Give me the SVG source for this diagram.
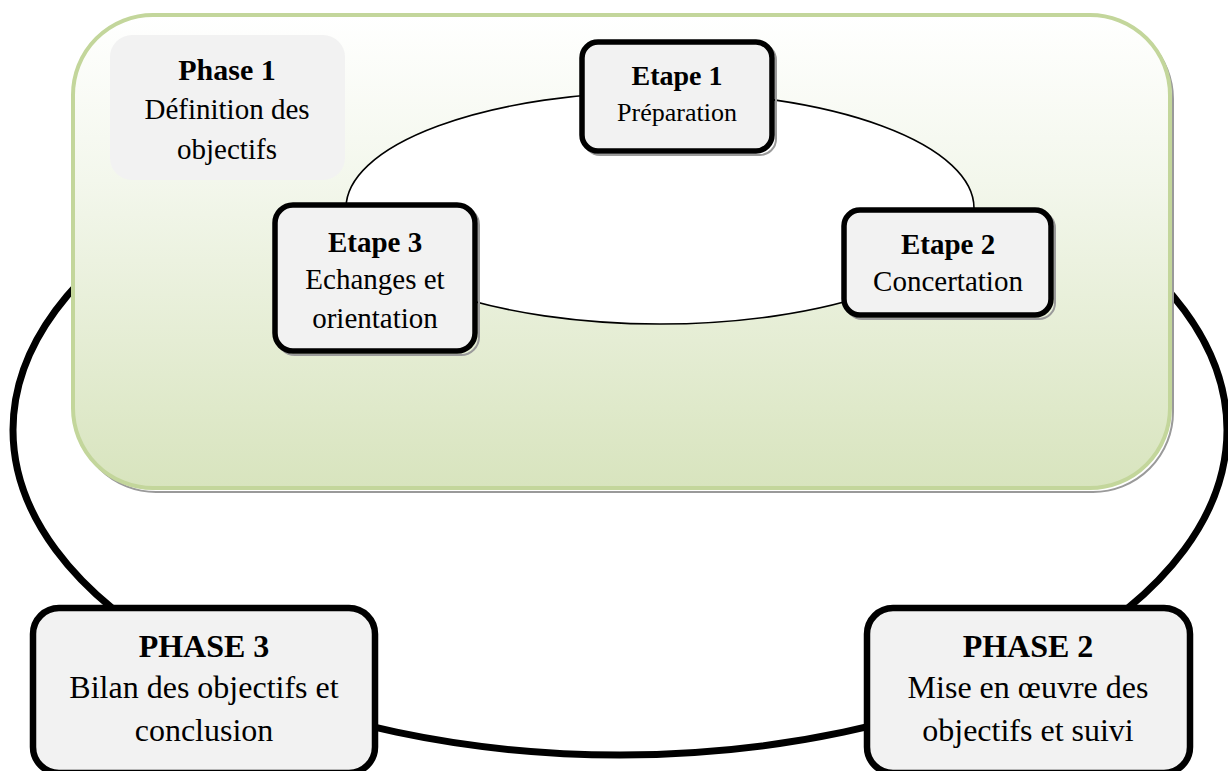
<svg xmlns="http://www.w3.org/2000/svg" width="1228" height="771" viewBox="0 0 1228 771">
  <defs>
    <linearGradient id="greenFill" x1="0" y1="0" x2="0" y2="1">
      <stop offset="0" stop-color="#FFFFFF"/>
      <stop offset="0.35" stop-color="#F3F7EC"/>
      <stop offset="1" stop-color="#D8E4BE"/>
    </linearGradient>
    <style>
      .serif { font-family: "Liberation Serif", "Times New Roman", serif; fill: #000; text-anchor: middle; }
      .b { font-weight: bold; }
      .step { fill: #F2F2F2; stroke: #000; stroke-width: 5.5; }
      .phase { fill: #F2F2F2; stroke: #000; stroke-width: 6.5; }
      .shadow { fill: none; stroke: #9A9A9A; stroke-width: 2; }
    </style>
  </defs>
  <rect x="0" y="0" width="1228" height="771" fill="#FFFFFF"/>

  <!-- outer cycle between phases -->
  <g id="connectors">
    <ellipse id="outer-cycle" cx="620" cy="430" rx="607" ry="325" fill="none" stroke="#000" stroke-width="7"/>
  </g>

  <!-- Phase 1 container -->
  <g id="phase1-container">
    <rect x="76" y="19" width="1097" height="473" rx="80" ry="80" class="shadow"/>
    <rect x="73" y="15" width="1097" height="473" rx="80" ry="80" fill="url(#greenFill)" stroke="#C3D69B" stroke-width="4"/>
  </g>

  <g id="phase1-label">
    <rect x="110" y="35" width="235" height="145" rx="22" ry="22" fill="#F2F2F2"/>
    <text class="serif b" x="227" y="80" font-size="30">Phase 1</text>
    <text class="serif" x="227" y="119" font-size="29">Définition des</text>
    <text class="serif" x="227" y="159" font-size="29">objectifs</text>
  </g>

  <!-- inner cycle between steps -->
  <g id="step-connectors">
    <ellipse id="inner-cycle" cx="660" cy="208" rx="314" ry="116" fill="#FFFFFF" stroke="#000" stroke-width="1.6"/>
  </g>

  <g id="etape1">
    <rect x="584" y="44" width="192" height="111" rx="16" ry="16" class="shadow"/>
    <rect x="582" y="42" width="190" height="109" rx="16" ry="16" class="step"/>
    <text class="serif b" x="677" y="85" font-size="28">Etape 1</text>
    <text class="serif" x="677" y="121" font-size="26">Préparation</text>
  </g>

  <g id="etape2">
    <rect x="846" y="212" width="209" height="107" rx="16" ry="16" class="shadow"/>
    <rect x="844" y="210" width="207" height="105" rx="16" ry="16" class="step"/>
    <text class="serif b" x="948" y="254" font-size="29">Etape 2</text>
    <text class="serif" x="948" y="291" font-size="29">Concertation</text>
  </g>

  <g id="etape3">
    <rect x="277" y="207" width="202" height="148" rx="18" ry="18" class="shadow"/>
    <rect x="275" y="205" width="200" height="146" rx="18" ry="18" class="step"/>
    <text class="serif b" x="375" y="252" font-size="29">Etape 3</text>
    <text class="serif" x="375" y="289" font-size="29">Echanges et</text>
    <text class="serif" x="375" y="328" font-size="29">orientation</text>
  </g>

  <g id="phase3">
    <rect x="33" y="608" width="342" height="165" rx="26" ry="26" class="phase"/>
    <text class="serif b" x="204" y="657" font-size="32">PHASE 3</text>
    <text class="serif" x="204" y="698" font-size="32">Bilan des objectifs et</text>
    <text class="serif" x="204" y="741" font-size="32">conclusion</text>
  </g>

  <g id="phase2">
    <rect x="867" y="608" width="323" height="165" rx="26" ry="26" class="phase"/>
    <text class="serif b" x="1028" y="657" font-size="32">PHASE 2</text>
    <text class="serif" x="1028" y="698" font-size="32">Mise en œuvre des</text>
    <text class="serif" x="1028" y="741" font-size="32">objectifs et suivi</text>
  </g>
</svg>
